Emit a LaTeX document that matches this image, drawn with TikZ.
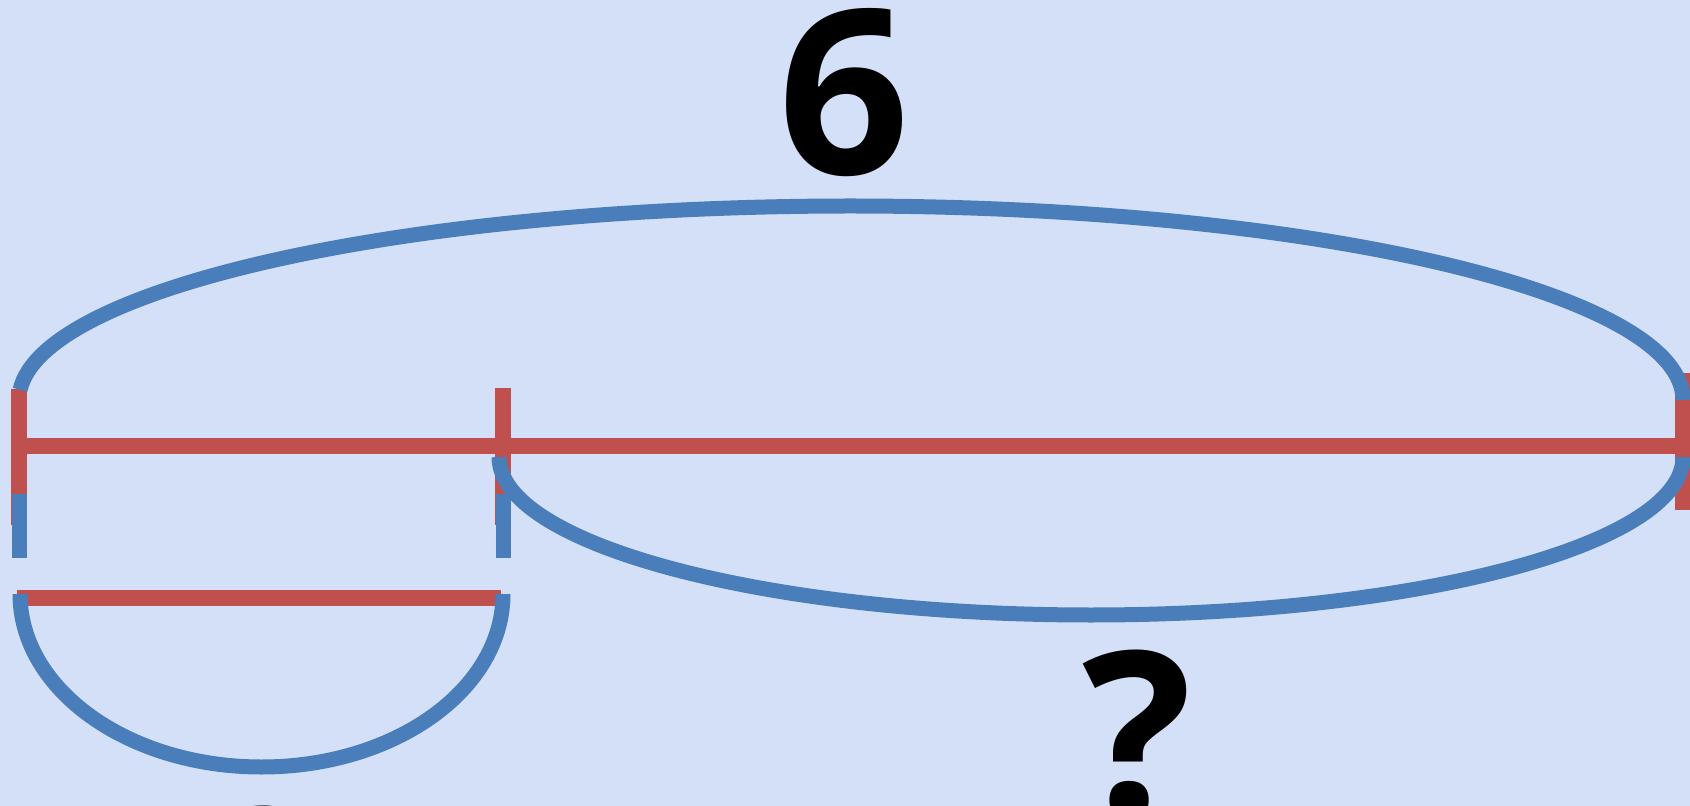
\documentclass[tikz,border=0pt]{standalone}
\usepackage{fontspec}
\setmainfont{Open Sans}
\definecolor{barred}{RGB}{192,80,77}
\definecolor{barblue}{RGB}{74,126,187}
\definecolor{bgcol}{RGB}{212,224,247}
\begin{document}
\begin{tikzpicture}[x=0.5pt,y=-0.5pt,
  redline/.style={draw=barred, line width=8pt},
  blueline/.style={draw=barblue, line width=7.5pt},
  bignum/.style={font=\fontsize{115}{115}\selectfont\bfseries, anchor=base, inner sep=0pt, text=black}]
\clip (0,0) rectangle (1690,806);
\fill[bgcol] (0,0) rectangle (1690,806);
% red bars
\coordinate (L) at (19,446);
\coordinate (M) at (503,446);
\coordinate (R) at (1683,446);
\coordinate (Ltop) at (19,389);
\coordinate (Lbot) at (19,525);
\coordinate (Mtop) at (503,388);
\coordinate (Mbot) at (503,525);
\coordinate (Rtop) at (1683,373);
\coordinate (Rbot) at (1683,510);
\coordinate (BL) at (17,598);
\coordinate (BR) at (501,598);
\draw[redline] (L) -- (R);
\draw[redline] (Ltop) -- (Lbot);
\draw[redline] (Mtop) -- (Mbot);
\draw[redline] (Rtop) -- (Rbot);
\draw[redline] (BL) -- (BR);
% blue braces
\coordinate (U0) at (20.1,389.85);
\coordinate (W0) at (499,457);
\coordinate (B0) at (20,594);
\draw[blueline] (U0) arc[start angle=183, end angle=360, x radius=832, y radius=194];
\draw[blueline] (W0) arc[start angle=180, end angle=0, x radius=592, y radius=158];
\draw[blueline] (B0) arc[start angle=180, end angle=0, x radius=241.5, y radius=173];
\draw[blueline] (19,494) -- (19,558);
\draw[blueline] (503,494) -- (503,558);
% labels
\node[bignum] (six) at (844,175) {6};
\node[bignum] (q) at (1137,816) {?};
\node[bignum] (two) at (262,972) {2};
\end{tikzpicture}
\end{document}
